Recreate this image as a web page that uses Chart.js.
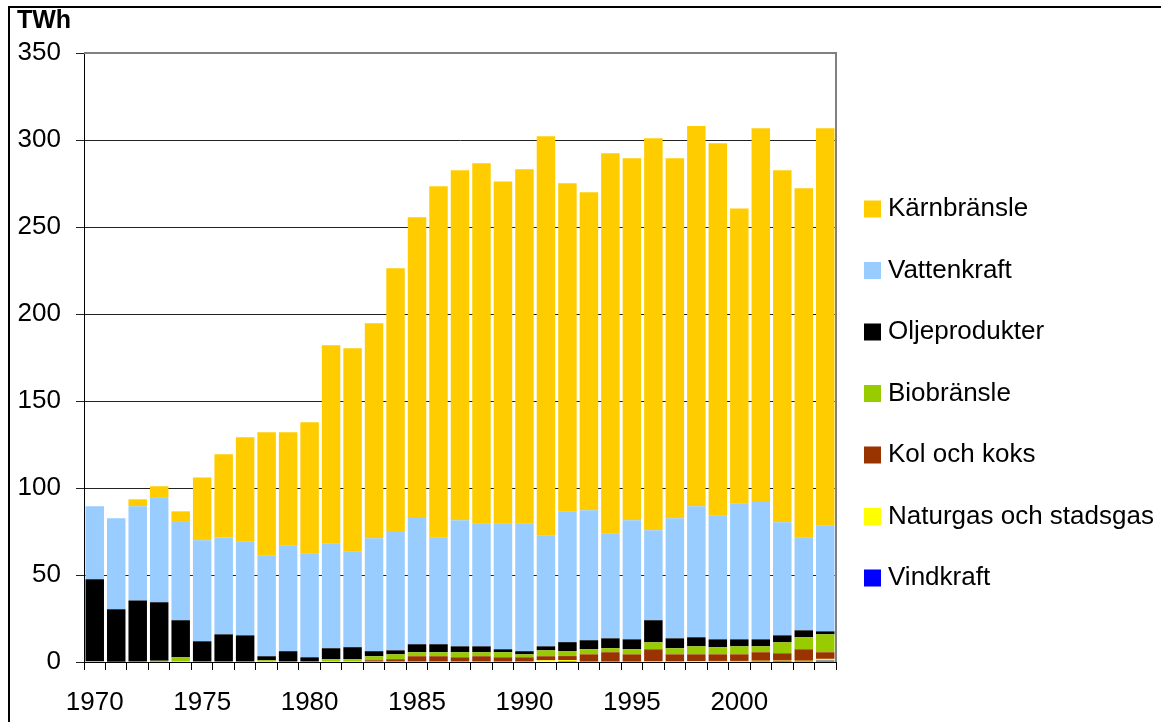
<!DOCTYPE html>
<html>
<head>
<meta charset="utf-8">
<script src="https://cdn.jsdelivr.net/npm/chart.js@4.4.1/dist/chart.umd.min.js"></script>
<style>
  body { margin: 0; background: #fff; }
  #wrap { width: 1161px; height: 722px; position: relative; }
</style>
</head>
<body>
<div id="wrap"><canvas id="chartCanvas"></canvas></div>
<script>
// Elproduktion i Sverige per kraftslag, TWh
const years = [1970, 1971, 1972, 1973, 1974, 1975, 1976, 1977, 1978, 1979,
  1980, 1981, 1982, 1983, 1984, 1985, 1986, 1987, 1988, 1989,
  1990, 1991, 1992, 1993, 1994, 1995, 1996, 1997, 1998, 1999,
  2000, 2001, 2002, 2003, 2004];

const vindkraft = [0, 0, 0, 0, 0, 0, 0, 0, 0, 0,
  0, 0, 0, 0, 0, 0, 0, 0, 0, 0,
  0, 0, 0.1, 0.1, 0.1, 0.1, 0.2, 0.2, 0.3, 0.4,
  0.4, 0.5, 0.6, 0.5, 0.8];
const naturgas = [0, 0, 0, 0, 0, 0, 0, 0, 0, 0,
  0, 0, 0, 0, 0, 0, 0, 0, 0, 0,
  0, 1.0, 1.0, 0.3, 0.3, 0.3, 0.3, 0.2, 0.2, 0.2,
  0.2, 0.2, 0.2, 0.2, 1.0];
const kolOchKoks = [0, 0, 0, 0.5, 0.3, 0, 0, 0, 0, 0,
  0, 0, 0.3, 1.0, 1.6, 3.3, 3.3, 2.7, 3.3, 2.7,
  2.7, 2.3, 2.3, 4.0, 5.2, 4.0, 6.8, 4.0, 3.9, 3.8,
  3.8, 4.9, 4.2, 6.6, 3.8];
const biobransle = [0.5, 0.2, 0.3, 0.2, 2.4, 0.3, 0.3, 0.3, 1.0, 0.3,
  0.3, 1.6, 1.3, 2.3, 2.8, 2.3, 2.3, 2.9, 2.3, 2.9,
  1.7, 3.4, 2.9, 2.9, 2.3, 2.9, 4.0, 3.5, 4.6, 4.1,
  4.6, 3.4, 6.3, 6.9, 10.3];
const oljeprodukter = [47.0, 30.1, 35.1, 33.6, 21.3, 11.6, 15.6, 15.0, 2.3, 5.9,
  2.4, 6.3, 6.9, 2.9, 2.3, 4.6, 4.6, 3.4, 3.4, 1.7,
  1.8, 2.3, 5.1, 5.2, 5.7, 5.7, 12.7, 5.7, 5.2, 4.5,
  4.0, 4.0, 4.0, 4.0, 1.7];
const vattenkraft = [42.0, 52.3, 54.1, 60.0, 56.5, 58.1, 55.6, 54.1, 58.0, 60.9,
  59.8, 60.3, 55.1, 64.9, 68.0, 72.6, 61.5, 72.4, 70.7, 72.4,
  73.5, 63.8, 75.3, 74.7, 60.4, 68.4, 51.7, 69.0, 75.3, 71.3,
  78.2, 79.0, 65.0, 53.5, 61.0];
const karnbransle = [0, 0, 4.0, 6.7, 6.1, 36.1, 47.9, 59.7, 70.7, 64.9,
  75.3, 113.8, 116.7, 123.6, 151.6, 172.8, 201.7, 201.2, 206.9, 196.5,
  203.5, 229.4, 188.5, 182.7, 218.4, 208.1, 225.3, 206.9, 218.5, 213.9,
  169.5, 214.8, 202.3, 200.5, 228.2];

const yTicks = [0, 50, 100, 150, 200, 250, 300, 350];
const unitLabel = "TWh";

const FONT = "Liberation Sans, Arial, sans-serif";
const FONT_SIZE = 26;

// frame, unit text and legend, drawn like the Excel original
const decorations = {
  id: "decorations",
  beforeDraw(chart) {
    const ctx = chart.ctx;
    ctx.save();
    ctx.strokeStyle = "#000";
    ctx.lineWidth = 2;
    ctx.strokeRect(9, 7, 2000, 2000);
    ctx.restore();
  },
  afterDraw(chart) {
    const ctx = chart.ctx;
    const area = chart.chartArea;
    ctx.save();
    // plot frame, top and right
    ctx.strokeStyle = "#808080";
    ctx.lineWidth = 2;
    ctx.beginPath();
    ctx.moveTo(area.left, area.top);
    ctx.lineTo(area.right, area.top);
    ctx.lineTo(area.right, area.bottom);
    ctx.stroke();

    ctx.fillStyle = "#000";
    ctx.font = "bold 25px " + FONT;
    ctx.textBaseline = "middle";
    ctx.textAlign = "left";
    ctx.fillText(unitLabel, 17, 21);

    // legend, top item = last dataset
    const sets = chart.data.datasets.slice().reverse();
    ctx.font = FONT_SIZE + "px " + FONT;
    sets.forEach((ds, i) => {
      const cy = 209 + i * 61.5;
      ctx.fillStyle = ds.backgroundColor;
      ctx.fillRect(864, cy - 8.5, 17, 17);
      ctx.fillStyle = "#000";
      ctx.fillText(ds.label, 888, cy);
    });
    ctx.restore();
  }
};

const ctx = document.getElementById("chartCanvas").getContext("2d");

new Chart(ctx, {
  type: "bar",
  data: {
    labels: years,
    datasets: [
      { label: "Vindkraft", data: vindkraft, backgroundColor: "#0000FF" },
      { label: "Naturgas och stadsgas", data: naturgas, backgroundColor: "#FFFF00" },
      { label: "Kol och koks", data: kolOchKoks, backgroundColor: "#993300" },
      { label: "Biobränsle", data: biobransle, backgroundColor: "#99CC00" },
      { label: "Oljeprodukter", data: oljeprodukter, backgroundColor: "#000000" },
      { label: "Vattenkraft", data: vattenkraft, backgroundColor: "#99CCFF" },
      { label: "Kärnbränsle", data: karnbransle, backgroundColor: "#FFCC00" },
    ],
  },
  options: {
    responsive: true,
    maintainAspectRatio: false,
    animation: false,
    categoryPercentage: 1.0,
    barPercentage: 0.86,
    layout: {
      padding: { top: 53, right: 325, bottom: 0, left: 0 },
    },
    plugins: {
      legend: { display: false },
      title: { display: false },
      tooltip: { enabled: false },
    },
    scales: {
      x: {
        stacked: true,
        grid: {
          drawOnChartArea: false,
          drawTicks: true,
          tickLength: 8,
          color: "#000",
        },
        border: { color: "#000", width: 1 },
        ticks: {
          autoSkip: false,
          maxRotation: 0,
          padding: 17,
          color: "#000",
          font: { family: FONT, size: FONT_SIZE },
          callback: function (value, index) {
            return years[index] % 5 === 0 ? String(years[index]) : "";
          },
        },
        afterFit: function (scale) {
          scale.height = 60;
        },
      },
      y: {
        stacked: true,
        min: 0,
        max: 350,
        z: 1,
        afterBuildTicks: function (scale) {
          scale.ticks = yTicks.map(v => ({ value: v }));
        },
        grid: {
          color: "#222",
          lineWidth: 1,
          tickLength: 8,
        },
        border: { color: "#000", width: 1 },
        ticks: {
          padding: 15,
          color: "#000",
          font: { family: FONT, size: FONT_SIZE },
        },
        afterFit: function (scale) {
          scale.width = 84;
        },
      },
    },
  },
  plugins: [decorations],
});
</script>
</body>
</html>
